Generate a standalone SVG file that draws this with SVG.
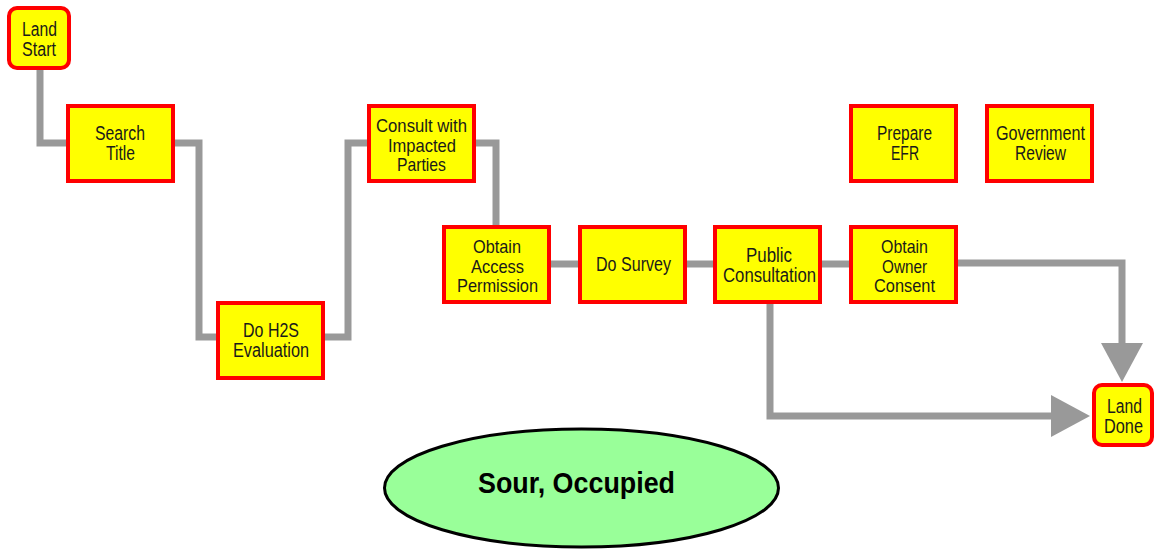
<svg xmlns="http://www.w3.org/2000/svg" width="1155" height="552" viewBox="0 0 1155 552">
<defs>
<style>
.box{fill:#ffff00;stroke:#ff0000;stroke-width:4}
.t{font-family:"Liberation Sans",Arial,sans-serif;font-size:20px;fill:#1a1a1a;text-anchor:middle}
.t3{font-size:19px}
.c{fill:none;stroke:#999999;stroke-width:7}
.big{font-family:"Liberation Sans",Arial,sans-serif;font-size:30px;font-weight:bold;fill:#000;text-anchor:middle}
</style>
<marker id="ah" markerUnits="userSpaceOnUse" markerWidth="40" markerHeight="44" refX="0" refY="21" orient="auto" viewBox="0 0 40 42">
<path d="M0,0 L39,21 L0,42 z" fill="#999999"/>
</marker>
</defs>
<rect width="1155" height="552" fill="#ffffff"/>
<g id="connectors">
<path class="c" d="M40 70 V143 H66"/>
<path class="c" d="M174 143 H199 V337 H216"/>
<path class="c" d="M325 337 H348 V143 H367"/>
<path class="c" d="M476 143 H496 V225"/>
<path class="c" d="M551 264 H578"/>
<path class="c" d="M687 264 H713"/>
<path class="c" d="M822 264 H849"/>
<path class="c" d="M958 263 H1122 V343" marker-end="url(#ah)"/>
<path class="c" d="M770 304 V416 H1051" marker-end="url(#ah)"/>
</g>
<g id="land-start">
<rect class="box" x="9" y="8" width="60" height="60" rx="8"/>
<text class="t" x="39.5" y="36" textLength="35" lengthAdjust="spacingAndGlyphs">Land</text>
<text class="t" x="39" y="56" textLength="34" lengthAdjust="spacingAndGlyphs">Start</text>
</g>
<g id="search-title">
<rect class="box" x="68" y="106" width="105" height="75"/>
<text class="t" x="120" y="140" textLength="50" lengthAdjust="spacingAndGlyphs">Search</text>
<text class="t" x="120.5" y="160" textLength="29" lengthAdjust="spacingAndGlyphs">Title</text>
</g>
<g id="do-h2s">
<rect class="box" x="218" y="303" width="105" height="75"/>
<text class="t" x="271" y="337" textLength="56" lengthAdjust="spacingAndGlyphs">Do H2S</text>
<text class="t" x="271" y="357" textLength="76" lengthAdjust="spacingAndGlyphs">Evaluation</text>
</g>
<g id="consult">
<rect class="box" x="369" y="106" width="105" height="75"/>
<text class="t t3" x="421.5" y="132" textLength="91" lengthAdjust="spacingAndGlyphs">Consult with</text>
<text class="t t3" x="422" y="151.5" textLength="68" lengthAdjust="spacingAndGlyphs">Impacted</text>
<text class="t t3" x="421.5" y="171" textLength="49" lengthAdjust="spacingAndGlyphs">Parties</text>
</g>
<g id="obtain-access">
<rect class="box" x="444" y="227" width="105" height="75"/>
<text class="t t3" x="497" y="253" textLength="48" lengthAdjust="spacingAndGlyphs">Obtain</text>
<text class="t t3" x="497.5" y="272.5" textLength="53" lengthAdjust="spacingAndGlyphs">Access</text>
<text class="t t3" x="497.5" y="292" textLength="81" lengthAdjust="spacingAndGlyphs">Permission</text>
</g>
<g id="do-survey">
<rect class="box" x="580" y="227" width="105" height="75"/>
<text class="t" x="633.5" y="271" textLength="75" lengthAdjust="spacingAndGlyphs">Do Survey</text>
</g>
<g id="public-consultation">
<rect class="box" x="715" y="227" width="105" height="75"/>
<text class="t" x="769" y="262" textLength="46" lengthAdjust="spacingAndGlyphs">Public</text>
<text class="t" x="769.5" y="282" textLength="93" lengthAdjust="spacingAndGlyphs">Consultation</text>
</g>
<g id="obtain-owner-consent">
<rect class="box" x="851" y="227" width="105" height="75"/>
<text class="t t3" x="904.5" y="253" textLength="47" lengthAdjust="spacingAndGlyphs">Obtain</text>
<text class="t t3" x="904.5" y="272.5" textLength="45" lengthAdjust="spacingAndGlyphs">Owner</text>
<text class="t t3" x="904.5" y="292" textLength="61" lengthAdjust="spacingAndGlyphs">Consent</text>
</g>
<g id="prepare-efr">
<rect class="box" x="851" y="106" width="105" height="75"/>
<text class="t" x="904.5" y="140" textLength="55" lengthAdjust="spacingAndGlyphs">Prepare</text>
<text class="t" x="905" y="160" textLength="28" lengthAdjust="spacingAndGlyphs">EFR</text>
</g>
<g id="government-review">
<rect class="box" x="987" y="106" width="105" height="75"/>
<text class="t" x="1040.5" y="140" textLength="89" lengthAdjust="spacingAndGlyphs">Government</text>
<text class="t" x="1040.5" y="160" textLength="51" lengthAdjust="spacingAndGlyphs">Review</text>
</g>
<g id="land-done">
<rect class="box" x="1094" y="385" width="58" height="60" rx="8"/>
<text class="t" x="1124.5" y="413" textLength="35" lengthAdjust="spacingAndGlyphs">Land</text>
<text class="t" x="1123.5" y="433" textLength="39" lengthAdjust="spacingAndGlyphs">Done</text>
</g>
<g id="sour-occupied">
<ellipse cx="581.5" cy="488" rx="197" ry="59" fill="#99ff99" stroke="#000000" stroke-width="3"/>
<text class="big" x="576.5" y="493" textLength="197" lengthAdjust="spacingAndGlyphs">Sour, Occupied</text>
</g>
</svg>
